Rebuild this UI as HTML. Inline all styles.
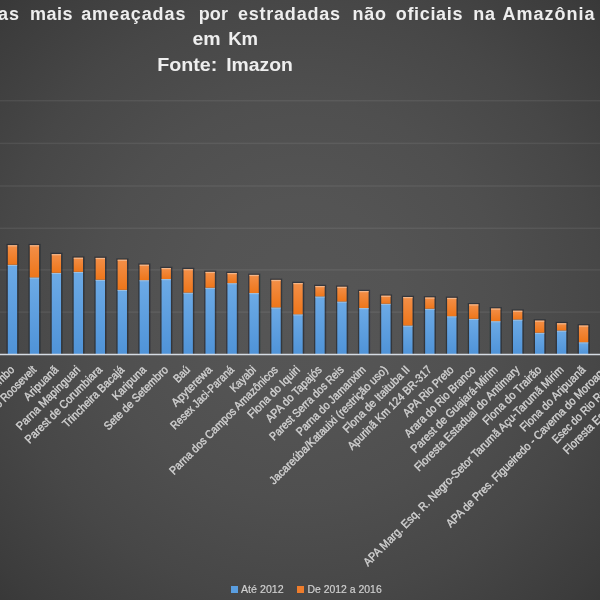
<!DOCTYPE html>
<html><head><meta charset="utf-8"><style>
html,body{margin:0;padding:0;background:#444;}
svg{display:block}
text{font-family:"Liberation Sans",Arial,sans-serif;}
</style></head><body>
<svg width="600" height="600" viewBox="0 0 600 600">
<defs>
<radialGradient id="bg" cx="300" cy="300" r="450" gradientUnits="userSpaceOnUse"><stop offset="0.0000" stop-color="#565656"/><stop offset="0.2222" stop-color="#545454"/><stop offset="0.4444" stop-color="#4f4f4f"/><stop offset="0.6667" stop-color="#474747"/><stop offset="0.8889" stop-color="#3c3c3c"/><stop offset="1.0000" stop-color="#353535"/></radialGradient>
<linearGradient id="gb" x1="0" y1="0" x2="0" y2="1"><stop offset="0" stop-color="#6caae6"/><stop offset="1" stop-color="#4f93d8"/></linearGradient>
<linearGradient id="go" x1="0" y1="0" x2="0" y2="1"><stop offset="0" stop-color="#f38f48"/><stop offset="1" stop-color="#ee761a"/></linearGradient>
<filter id="tb" x="-10%" y="-30%" width="120%" height="160%"><feGaussianBlur stdDeviation="0.3"/></filter>
<filter id="sh" x="-50%" y="-10%" width="200%" height="120%"><feGaussianBlur stdDeviation="0.6"/></filter>
</defs>
<rect width="600" height="600" fill="url(#bg)"/>

<rect x="0" y="99.95" width="600" height="1.5" fill="#ffffff" fill-opacity="0.07"/>
<rect x="0" y="142.65" width="600" height="1.5" fill="#ffffff" fill-opacity="0.07"/>
<rect x="0" y="185.25" width="600" height="1.5" fill="#ffffff" fill-opacity="0.07"/>
<rect x="0" y="227.55" width="600" height="1.5" fill="#ffffff" fill-opacity="0.07"/>
<rect x="0" y="269.15" width="600" height="1.5" fill="#ffffff" fill-opacity="0.07"/>
<rect x="0" y="311.35" width="600" height="1.5" fill="#ffffff" fill-opacity="0.07"/>
<rect x="6.49" y="243.90" width="12.15" height="110.60" fill="#151c28" opacity="0.5" filter="url(#sh)"/>
<rect x="7.79" y="264.75" width="9.35" height="89.75" fill="url(#gb)"/>
<rect x="7.79" y="264.75" width="9.35" height="1.2" fill="#a9c4df" opacity="0.8"/>
<rect x="7.79" y="245.20" width="9.35" height="19.55" fill="url(#go)"/>
<rect x="7.79" y="245.20" width="9.35" height="1.2" fill="#f4bf98" opacity="0.8"/>
<rect x="28.46" y="243.90" width="12.15" height="110.60" fill="#151c28" opacity="0.5" filter="url(#sh)"/>
<rect x="29.76" y="277.40" width="9.35" height="77.10" fill="url(#gb)"/>
<rect x="29.76" y="277.40" width="9.35" height="1.2" fill="#a9c4df" opacity="0.8"/>
<rect x="29.76" y="245.20" width="9.35" height="32.20" fill="url(#go)"/>
<rect x="29.76" y="245.20" width="9.35" height="1.2" fill="#f4bf98" opacity="0.8"/>
<rect x="50.42" y="252.80" width="12.15" height="101.70" fill="#151c28" opacity="0.5" filter="url(#sh)"/>
<rect x="51.72" y="272.80" width="9.35" height="81.70" fill="url(#gb)"/>
<rect x="51.72" y="272.80" width="9.35" height="1.2" fill="#a9c4df" opacity="0.8"/>
<rect x="51.72" y="254.10" width="9.35" height="18.70" fill="url(#go)"/>
<rect x="51.72" y="254.10" width="9.35" height="1.2" fill="#f4bf98" opacity="0.8"/>
<rect x="72.39" y="256.40" width="12.15" height="98.10" fill="#151c28" opacity="0.5" filter="url(#sh)"/>
<rect x="73.69" y="271.80" width="9.35" height="82.70" fill="url(#gb)"/>
<rect x="73.69" y="271.80" width="9.35" height="1.2" fill="#a9c4df" opacity="0.8"/>
<rect x="73.69" y="257.70" width="9.35" height="14.10" fill="url(#go)"/>
<rect x="73.69" y="257.70" width="9.35" height="1.2" fill="#f4bf98" opacity="0.8"/>
<rect x="94.35" y="256.60" width="12.15" height="97.90" fill="#151c28" opacity="0.5" filter="url(#sh)"/>
<rect x="95.65" y="279.70" width="9.35" height="74.80" fill="url(#gb)"/>
<rect x="95.65" y="279.70" width="9.35" height="1.2" fill="#a9c4df" opacity="0.8"/>
<rect x="95.65" y="257.90" width="9.35" height="21.80" fill="url(#go)"/>
<rect x="95.65" y="257.90" width="9.35" height="1.2" fill="#f4bf98" opacity="0.8"/>
<rect x="116.32" y="258.40" width="12.15" height="96.10" fill="#151c28" opacity="0.5" filter="url(#sh)"/>
<rect x="117.62" y="289.80" width="9.35" height="64.70" fill="url(#gb)"/>
<rect x="117.62" y="289.80" width="9.35" height="1.2" fill="#a9c4df" opacity="0.8"/>
<rect x="117.62" y="259.70" width="9.35" height="30.10" fill="url(#go)"/>
<rect x="117.62" y="259.70" width="9.35" height="1.2" fill="#f4bf98" opacity="0.8"/>
<rect x="138.29" y="263.40" width="12.15" height="91.10" fill="#151c28" opacity="0.5" filter="url(#sh)"/>
<rect x="139.59" y="280.10" width="9.35" height="74.40" fill="url(#gb)"/>
<rect x="139.59" y="280.10" width="9.35" height="1.2" fill="#a9c4df" opacity="0.8"/>
<rect x="139.59" y="264.70" width="9.35" height="15.40" fill="url(#go)"/>
<rect x="139.59" y="264.70" width="9.35" height="1.2" fill="#f4bf98" opacity="0.8"/>
<rect x="160.25" y="266.70" width="12.15" height="87.80" fill="#151c28" opacity="0.5" filter="url(#sh)"/>
<rect x="161.55" y="279.00" width="9.35" height="75.50" fill="url(#gb)"/>
<rect x="161.55" y="279.00" width="9.35" height="1.2" fill="#a9c4df" opacity="0.8"/>
<rect x="161.55" y="268.00" width="9.35" height="11.00" fill="url(#go)"/>
<rect x="161.55" y="268.00" width="9.35" height="1.2" fill="#f4bf98" opacity="0.8"/>
<rect x="182.22" y="267.80" width="12.15" height="86.70" fill="#151c28" opacity="0.5" filter="url(#sh)"/>
<rect x="183.52" y="292.60" width="9.35" height="61.90" fill="url(#gb)"/>
<rect x="183.52" y="292.60" width="9.35" height="1.2" fill="#a9c4df" opacity="0.8"/>
<rect x="183.52" y="269.10" width="9.35" height="23.50" fill="url(#go)"/>
<rect x="183.52" y="269.10" width="9.35" height="1.2" fill="#f4bf98" opacity="0.8"/>
<rect x="204.18" y="270.60" width="12.15" height="83.90" fill="#151c28" opacity="0.5" filter="url(#sh)"/>
<rect x="205.48" y="287.70" width="9.35" height="66.80" fill="url(#gb)"/>
<rect x="205.48" y="287.70" width="9.35" height="1.2" fill="#a9c4df" opacity="0.8"/>
<rect x="205.48" y="271.90" width="9.35" height="15.80" fill="url(#go)"/>
<rect x="205.48" y="271.90" width="9.35" height="1.2" fill="#f4bf98" opacity="0.8"/>
<rect x="226.15" y="271.70" width="12.15" height="82.80" fill="#151c28" opacity="0.5" filter="url(#sh)"/>
<rect x="227.45" y="283.10" width="9.35" height="71.40" fill="url(#gb)"/>
<rect x="227.45" y="283.10" width="9.35" height="1.2" fill="#a9c4df" opacity="0.8"/>
<rect x="227.45" y="273.00" width="9.35" height="10.10" fill="url(#go)"/>
<rect x="227.45" y="273.00" width="9.35" height="1.2" fill="#f4bf98" opacity="0.8"/>
<rect x="248.12" y="273.60" width="12.15" height="80.90" fill="#151c28" opacity="0.5" filter="url(#sh)"/>
<rect x="249.42" y="293.00" width="9.35" height="61.50" fill="url(#gb)"/>
<rect x="249.42" y="293.00" width="9.35" height="1.2" fill="#a9c4df" opacity="0.8"/>
<rect x="249.42" y="274.90" width="9.35" height="18.10" fill="url(#go)"/>
<rect x="249.42" y="274.90" width="9.35" height="1.2" fill="#f4bf98" opacity="0.8"/>
<rect x="270.08" y="278.60" width="12.15" height="75.90" fill="#151c28" opacity="0.5" filter="url(#sh)"/>
<rect x="271.38" y="307.40" width="9.35" height="47.10" fill="url(#gb)"/>
<rect x="271.38" y="307.40" width="9.35" height="1.2" fill="#a9c4df" opacity="0.8"/>
<rect x="271.38" y="279.90" width="9.35" height="27.50" fill="url(#go)"/>
<rect x="271.38" y="279.90" width="9.35" height="1.2" fill="#f4bf98" opacity="0.8"/>
<rect x="292.05" y="281.70" width="12.15" height="72.80" fill="#151c28" opacity="0.5" filter="url(#sh)"/>
<rect x="293.35" y="314.30" width="9.35" height="40.20" fill="url(#gb)"/>
<rect x="293.35" y="314.30" width="9.35" height="1.2" fill="#a9c4df" opacity="0.8"/>
<rect x="293.35" y="283.00" width="9.35" height="31.30" fill="url(#go)"/>
<rect x="293.35" y="283.00" width="9.35" height="1.2" fill="#f4bf98" opacity="0.8"/>
<rect x="314.01" y="284.70" width="12.15" height="69.80" fill="#151c28" opacity="0.5" filter="url(#sh)"/>
<rect x="315.31" y="296.40" width="9.35" height="58.10" fill="url(#gb)"/>
<rect x="315.31" y="296.40" width="9.35" height="1.2" fill="#a9c4df" opacity="0.8"/>
<rect x="315.31" y="286.00" width="9.35" height="10.40" fill="url(#go)"/>
<rect x="315.31" y="286.00" width="9.35" height="1.2" fill="#f4bf98" opacity="0.8"/>
<rect x="335.98" y="285.50" width="12.15" height="69.00" fill="#151c28" opacity="0.5" filter="url(#sh)"/>
<rect x="337.28" y="301.50" width="9.35" height="53.00" fill="url(#gb)"/>
<rect x="337.28" y="301.50" width="9.35" height="1.2" fill="#a9c4df" opacity="0.8"/>
<rect x="337.28" y="286.80" width="9.35" height="14.70" fill="url(#go)"/>
<rect x="337.28" y="286.80" width="9.35" height="1.2" fill="#f4bf98" opacity="0.8"/>
<rect x="357.95" y="289.70" width="12.15" height="64.80" fill="#151c28" opacity="0.5" filter="url(#sh)"/>
<rect x="359.25" y="308.00" width="9.35" height="46.50" fill="url(#gb)"/>
<rect x="359.25" y="308.00" width="9.35" height="1.2" fill="#a9c4df" opacity="0.8"/>
<rect x="359.25" y="291.00" width="9.35" height="17.00" fill="url(#go)"/>
<rect x="359.25" y="291.00" width="9.35" height="1.2" fill="#f4bf98" opacity="0.8"/>
<rect x="379.91" y="294.40" width="12.15" height="60.10" fill="#151c28" opacity="0.5" filter="url(#sh)"/>
<rect x="381.21" y="303.70" width="9.35" height="50.80" fill="url(#gb)"/>
<rect x="381.21" y="303.70" width="9.35" height="1.2" fill="#a9c4df" opacity="0.8"/>
<rect x="381.21" y="295.70" width="9.35" height="8.00" fill="url(#go)"/>
<rect x="381.21" y="295.70" width="9.35" height="1.2" fill="#f4bf98" opacity="0.8"/>
<rect x="401.88" y="295.70" width="12.15" height="58.80" fill="#151c28" opacity="0.5" filter="url(#sh)"/>
<rect x="403.18" y="325.50" width="9.35" height="29.00" fill="url(#gb)"/>
<rect x="403.18" y="325.50" width="9.35" height="1.2" fill="#a9c4df" opacity="0.8"/>
<rect x="403.18" y="297.00" width="9.35" height="28.50" fill="url(#go)"/>
<rect x="403.18" y="297.00" width="9.35" height="1.2" fill="#f4bf98" opacity="0.8"/>
<rect x="423.84" y="296.20" width="12.15" height="58.30" fill="#151c28" opacity="0.5" filter="url(#sh)"/>
<rect x="425.14" y="308.70" width="9.35" height="45.80" fill="url(#gb)"/>
<rect x="425.14" y="308.70" width="9.35" height="1.2" fill="#a9c4df" opacity="0.8"/>
<rect x="425.14" y="297.50" width="9.35" height="11.20" fill="url(#go)"/>
<rect x="425.14" y="297.50" width="9.35" height="1.2" fill="#f4bf98" opacity="0.8"/>
<rect x="445.81" y="296.60" width="12.15" height="57.90" fill="#151c28" opacity="0.5" filter="url(#sh)"/>
<rect x="447.11" y="316.20" width="9.35" height="38.30" fill="url(#gb)"/>
<rect x="447.11" y="316.20" width="9.35" height="1.2" fill="#a9c4df" opacity="0.8"/>
<rect x="447.11" y="297.90" width="9.35" height="18.30" fill="url(#go)"/>
<rect x="447.11" y="297.90" width="9.35" height="1.2" fill="#f4bf98" opacity="0.8"/>
<rect x="467.78" y="303.00" width="12.15" height="51.50" fill="#151c28" opacity="0.5" filter="url(#sh)"/>
<rect x="469.08" y="318.80" width="9.35" height="35.70" fill="url(#gb)"/>
<rect x="469.08" y="318.80" width="9.35" height="1.2" fill="#a9c4df" opacity="0.8"/>
<rect x="469.08" y="304.30" width="9.35" height="14.50" fill="url(#go)"/>
<rect x="469.08" y="304.30" width="9.35" height="1.2" fill="#f4bf98" opacity="0.8"/>
<rect x="489.74" y="307.20" width="12.15" height="47.30" fill="#151c28" opacity="0.5" filter="url(#sh)"/>
<rect x="491.04" y="321.10" width="9.35" height="33.40" fill="url(#gb)"/>
<rect x="491.04" y="321.10" width="9.35" height="1.2" fill="#a9c4df" opacity="0.8"/>
<rect x="491.04" y="308.50" width="9.35" height="12.60" fill="url(#go)"/>
<rect x="491.04" y="308.50" width="9.35" height="1.2" fill="#f4bf98" opacity="0.8"/>
<rect x="511.71" y="309.40" width="12.15" height="45.10" fill="#151c28" opacity="0.5" filter="url(#sh)"/>
<rect x="513.01" y="319.50" width="9.35" height="35.00" fill="url(#gb)"/>
<rect x="513.01" y="319.50" width="9.35" height="1.2" fill="#a9c4df" opacity="0.8"/>
<rect x="513.01" y="310.70" width="9.35" height="8.80" fill="url(#go)"/>
<rect x="513.01" y="310.70" width="9.35" height="1.2" fill="#f4bf98" opacity="0.8"/>
<rect x="533.67" y="319.30" width="12.15" height="35.20" fill="#151c28" opacity="0.5" filter="url(#sh)"/>
<rect x="534.97" y="332.70" width="9.35" height="21.80" fill="url(#gb)"/>
<rect x="534.97" y="332.70" width="9.35" height="1.2" fill="#a9c4df" opacity="0.8"/>
<rect x="534.97" y="320.60" width="9.35" height="12.10" fill="url(#go)"/>
<rect x="534.97" y="320.60" width="9.35" height="1.2" fill="#f4bf98" opacity="0.8"/>
<rect x="555.64" y="321.90" width="12.15" height="32.60" fill="#151c28" opacity="0.5" filter="url(#sh)"/>
<rect x="556.94" y="330.50" width="9.35" height="24.00" fill="url(#gb)"/>
<rect x="556.94" y="330.50" width="9.35" height="1.2" fill="#a9c4df" opacity="0.8"/>
<rect x="556.94" y="323.20" width="9.35" height="7.30" fill="url(#go)"/>
<rect x="556.94" y="323.20" width="9.35" height="1.2" fill="#f4bf98" opacity="0.8"/>
<rect x="577.61" y="324.20" width="12.15" height="30.30" fill="#151c28" opacity="0.5" filter="url(#sh)"/>
<rect x="578.91" y="342.20" width="9.35" height="12.30" fill="url(#gb)"/>
<rect x="578.91" y="342.20" width="9.35" height="1.2" fill="#a9c4df" opacity="0.8"/>
<rect x="578.91" y="325.50" width="9.35" height="16.70" fill="url(#go)"/>
<rect x="578.91" y="325.50" width="9.35" height="1.2" fill="#f4bf98" opacity="0.8"/>
<rect x="0" y="353.75" width="600" height="1.5" fill="#d5dbe2"/>
<g filter="url(#tb)">
<text transform="translate(15.06,370.50) rotate(-45)" text-anchor="end" font-size="11.6" fill="#d0d0d0" stroke="#d0d0d0" stroke-width="0.4" textLength="186.5" lengthAdjust="spacingAndGlyphs">Rebio Nascentes da Serra do Cachimbo</text>
<text transform="translate(37.03,370.50) rotate(-45)" text-anchor="end" font-size="11.6" fill="#d0d0d0" stroke="#d0d0d0" stroke-width="0.4" textLength="95.3" lengthAdjust="spacingAndGlyphs">Resex Rio Roosevelt</text>
<text transform="translate(59.00,370.50) rotate(-45)" text-anchor="end" font-size="11.6" fill="#d0d0d0" stroke="#d0d0d0" stroke-width="0.4" textLength="43.4" lengthAdjust="spacingAndGlyphs">Aripuanã</text>
<text transform="translate(80.96,370.50) rotate(-45)" text-anchor="end" font-size="11.6" fill="#d0d0d0" stroke="#d0d0d0" stroke-width="0.4" textLength="85.1" lengthAdjust="spacingAndGlyphs">Parna Mapinguari</text>
<text transform="translate(102.93,370.50) rotate(-45)" text-anchor="end" font-size="11.6" fill="#d0d0d0" stroke="#d0d0d0" stroke-width="0.4" textLength="103.8" lengthAdjust="spacingAndGlyphs">Parest de Corumbiara</text>
<text transform="translate(124.90,370.50) rotate(-45)" text-anchor="end" font-size="11.6" fill="#d0d0d0" stroke="#d0d0d0" stroke-width="0.4" textLength="81.8" lengthAdjust="spacingAndGlyphs">Trincheira Bacajá</text>
<text transform="translate(146.86,370.50) rotate(-45)" text-anchor="end" font-size="11.6" fill="#d0d0d0" stroke="#d0d0d0" stroke-width="0.4" textLength="42.7" lengthAdjust="spacingAndGlyphs">Karipuna</text>
<text transform="translate(168.83,370.50) rotate(-45)" text-anchor="end" font-size="11.6" fill="#d0d0d0" stroke="#d0d0d0" stroke-width="0.4" textLength="85.2" lengthAdjust="spacingAndGlyphs">Sete de Setembro</text>
<text transform="translate(190.79,370.50) rotate(-45)" text-anchor="end" font-size="11.6" fill="#d0d0d0" stroke="#d0d0d0" stroke-width="0.4" textLength="18.2" lengthAdjust="spacingAndGlyphs">Baú</text>
<text transform="translate(212.76,370.50) rotate(-45)" text-anchor="end" font-size="11.6" fill="#d0d0d0" stroke="#d0d0d0" stroke-width="0.4" textLength="52.0" lengthAdjust="spacingAndGlyphs">Apyterewa</text>
<text transform="translate(234.73,370.50) rotate(-45)" text-anchor="end" font-size="11.6" fill="#d0d0d0" stroke="#d0d0d0" stroke-width="0.4" textLength="84.3" lengthAdjust="spacingAndGlyphs">Resex Jaci-Paraná</text>
<text transform="translate(256.69,370.50) rotate(-45)" text-anchor="end" font-size="11.6" fill="#d0d0d0" stroke="#d0d0d0" stroke-width="0.4" textLength="31.5" lengthAdjust="spacingAndGlyphs">Kayabi</text>
<text transform="translate(278.66,370.50) rotate(-45)" text-anchor="end" font-size="11.6" fill="#d0d0d0" stroke="#d0d0d0" stroke-width="0.4" textLength="148.1" lengthAdjust="spacingAndGlyphs">Parna dos Campos Amazônicos</text>
<text transform="translate(300.62,370.50) rotate(-45)" text-anchor="end" font-size="11.6" fill="#d0d0d0" stroke="#d0d0d0" stroke-width="0.4" textLength="68.6" lengthAdjust="spacingAndGlyphs">Flona do Iquiri</text>
<text transform="translate(322.59,370.50) rotate(-45)" text-anchor="end" font-size="11.6" fill="#d0d0d0" stroke="#d0d0d0" stroke-width="0.4" textLength="74.1" lengthAdjust="spacingAndGlyphs">APA do Tapajós</text>
<text transform="translate(344.56,370.50) rotate(-45)" text-anchor="end" font-size="11.6" fill="#d0d0d0" stroke="#d0d0d0" stroke-width="0.4" textLength="99.7" lengthAdjust="spacingAndGlyphs">Parest Serra dos Reis</text>
<text transform="translate(366.52,370.50) rotate(-45)" text-anchor="end" font-size="11.6" fill="#d0d0d0" stroke="#d0d0d0" stroke-width="0.4" textLength="93.0" lengthAdjust="spacingAndGlyphs">Parna do Jamanxim</text>
<text transform="translate(388.49,370.50) rotate(-45)" text-anchor="end" font-size="11.6" fill="#d0d0d0" stroke="#d0d0d0" stroke-width="0.4" textLength="161.9" lengthAdjust="spacingAndGlyphs">Jacareúba/Katauixi (restrição uso)</text>
<text transform="translate(410.45,370.50) rotate(-45)" text-anchor="end" font-size="11.6" fill="#d0d0d0" stroke="#d0d0d0" stroke-width="0.4" textLength="89.1" lengthAdjust="spacingAndGlyphs">Flona de Itaituba II</text>
<text transform="translate(432.42,370.50) rotate(-45)" text-anchor="end" font-size="11.6" fill="#d0d0d0" stroke="#d0d0d0" stroke-width="0.4" textLength="113.3" lengthAdjust="spacingAndGlyphs">Apurinã Km 124 BR-317</text>
<text transform="translate(454.39,370.50) rotate(-45)" text-anchor="end" font-size="11.6" fill="#d0d0d0" stroke="#d0d0d0" stroke-width="0.4" textLength="66.4" lengthAdjust="spacingAndGlyphs">APA Rio Preto</text>
<text transform="translate(476.35,370.50) rotate(-45)" text-anchor="end" font-size="11.6" fill="#d0d0d0" stroke="#d0d0d0" stroke-width="0.4" textLength="95.3" lengthAdjust="spacingAndGlyphs">Arara do Rio Branco</text>
<text transform="translate(498.32,370.50) rotate(-45)" text-anchor="end" font-size="11.6" fill="#d0d0d0" stroke="#d0d0d0" stroke-width="0.4" textLength="117.4" lengthAdjust="spacingAndGlyphs">Parest de Guajará-Mirim</text>
<text transform="translate(520.28,370.50) rotate(-45)" text-anchor="end" font-size="11.6" fill="#d0d0d0" stroke="#d0d0d0" stroke-width="0.4" textLength="143.3" lengthAdjust="spacingAndGlyphs">Floresta Estadual do Antimary</text>
<text transform="translate(542.25,370.50) rotate(-45)" text-anchor="end" font-size="11.6" fill="#d0d0d0" stroke="#d0d0d0" stroke-width="0.4" textLength="77.8" lengthAdjust="spacingAndGlyphs">Flona do Trairão</text>
<text transform="translate(564.21,370.50) rotate(-45)" text-anchor="end" font-size="11.6" fill="#d0d0d0" stroke="#d0d0d0" stroke-width="0.4" textLength="277.4" lengthAdjust="spacingAndGlyphs">APA Marg. Esq. R. Negro-Setor Tarumã Açu-Tarumã Mirim</text>
<text transform="translate(586.18,370.50) rotate(-45)" text-anchor="end" font-size="11.6" fill="#d0d0d0" stroke="#d0d0d0" stroke-width="0.4" textLength="87.1" lengthAdjust="spacingAndGlyphs">Flona do Aripuanã</text>
<text transform="translate(608.15,370.50) rotate(-45)" text-anchor="end" font-size="11.6" fill="#d0d0d0" stroke="#d0d0d0" stroke-width="0.4" textLength="222.7" lengthAdjust="spacingAndGlyphs">APA de Pres. Figueiredo - Caverna do Moroaga</text>
<text transform="translate(630.11,370.50) rotate(-45)" text-anchor="end" font-size="11.6" fill="#d0d0d0" stroke="#d0d0d0" stroke-width="0.4" textLength="103.8" lengthAdjust="spacingAndGlyphs">Esec do Rio Roosevelt</text>
<text transform="translate(652.08,370.50) rotate(-45)" text-anchor="end" font-size="11.6" fill="#d0d0d0" stroke="#d0d0d0" stroke-width="0.4" textLength="119.2" lengthAdjust="spacingAndGlyphs">Floresta Estadual Tapauá</text>
</g>
<g filter="url(#tb)">
<text x="-2" y="19.5" font-size="18" font-weight="bold" fill="#eeeeee" textLength="21" lengthAdjust="spacing">as</text>
<text x="30.00" y="19.5" font-size="18" font-weight="bold" fill="#eeeeee" textLength="42.40" lengthAdjust="spacing">mais</text>
<text x="81.20" y="19.5" font-size="18" font-weight="bold" fill="#eeeeee" textLength="104.20" lengthAdjust="spacing">ameaçadas</text>
<text x="198.70" y="19.5" font-size="18" font-weight="bold" fill="#eeeeee" textLength="29.20" lengthAdjust="spacing">por</text>
<text x="237.95" y="19.5" font-size="18" font-weight="bold" fill="#eeeeee" textLength="102.05" lengthAdjust="spacing">estradadas</text>
<text x="352.60" y="19.5" font-size="18" font-weight="bold" fill="#eeeeee" textLength="33.30" lengthAdjust="spacing">não</text>
<text x="395.80" y="19.5" font-size="18" font-weight="bold" fill="#eeeeee" textLength="66.60" lengthAdjust="spacing">oficiais</text>
<text x="473.20" y="19.5" font-size="18" font-weight="bold" fill="#eeeeee" textLength="21.70" lengthAdjust="spacing">na</text>
<text x="502.50" y="19.5" font-size="18" font-weight="bold" fill="#eeeeee" textLength="92.10" lengthAdjust="spacing">Amazônia</text>
<text x="192.50" y="44.7" font-size="18" font-weight="bold" fill="#eeeeee" textLength="28.20" lengthAdjust="spacingAndGlyphs">em</text>
<text x="228.20" y="44.7" font-size="18" font-weight="bold" fill="#eeeeee" textLength="29.90" lengthAdjust="spacingAndGlyphs">Km</text>
<text x="157.20" y="70.5" font-size="18" font-weight="bold" fill="#eeeeee" textLength="60.20" lengthAdjust="spacingAndGlyphs">Fonte:</text>
<text x="226.20" y="70.5" font-size="18" font-weight="bold" fill="#eeeeee" textLength="66.70" lengthAdjust="spacingAndGlyphs">Imazon</text>
</g>
<rect x="231" y="586" width="7" height="7" fill="#5a9ee0"/>
<text x="241" y="592.7" font-size="11.6" fill="#d0d0d0" stroke="#d0d0d0" stroke-width="0.2" textLength="42.7" lengthAdjust="spacingAndGlyphs">Até 2012</text>
<rect x="297" y="586" width="7" height="7" fill="#ef7d2c"/>
<text x="307.5" y="592.7" font-size="11.6" fill="#d0d0d0" stroke="#d0d0d0" stroke-width="0.2" textLength="74.2" lengthAdjust="spacingAndGlyphs">De 2012 a 2016</text>
</svg></body></html>
